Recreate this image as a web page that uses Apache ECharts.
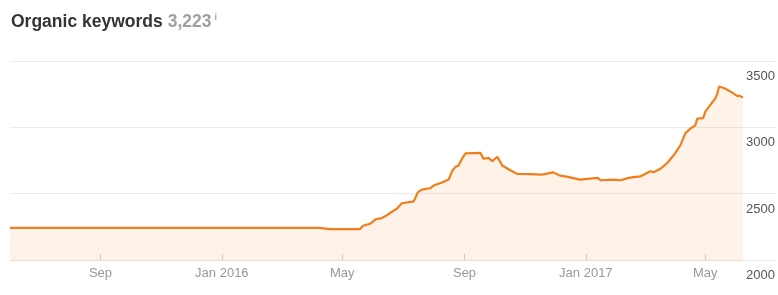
<!DOCTYPE html>
<html><head><meta charset="utf-8">
<script src="https://cdn.jsdelivr.net/npm/echarts@6/dist/echarts.min.js"></script>
<style>html,body{margin:0;padding:0;background:#fff}#c{width:778px;height:295px}</style>
</head><body><div id="c"></div>
<script>
var titleText = 'Organic keywords';
var titleValue = '3,223';
var dates = ['2015-06-02','2015-09-01','2016-01-01','2016-04-08','2016-04-19','2016-05-19','2016-05-22','2016-05-29',
'2016-06-04','2016-06-10','2016-06-14','2016-06-18','2016-06-25','2016-06-30','2016-07-12','2016-07-16','2016-07-20',
'2016-07-29','2016-08-01','2016-08-10','2016-08-16','2016-08-20','2016-08-23','2016-08-26','2016-08-30','2016-09-02',
'2016-09-17','2016-09-20','2016-09-25','2016-09-29','2016-10-04','2016-10-09','2016-10-17','2016-10-24','2016-11-06',
'2016-11-18','2016-11-29','2016-12-06','2016-12-14','2016-12-26','2017-01-13','2017-01-16','2017-01-29','2017-02-05',
'2017-02-13','2017-02-20','2017-02-25','2017-03-07','2017-03-10','2017-03-17','2017-03-24','2017-03-29','2017-04-01',
'2017-04-06','2017-04-11','2017-04-16','2017-04-21','2017-04-23','2017-04-29','2017-05-01','2017-05-06','2017-05-11',
'2017-05-13','2017-05-15','2017-05-21','2017-05-29','2017-06-02','2017-06-05','2017-06-08'];
var keywords = [2242,2242,2242,2242,2233,2233,2258,2273,
2308,2316,2333,2354,2386,2428,2442,2510,2530,
2543,2561,2586,2606,2677,2702,2712,2770,2803,
2808,2763,2770,2745,2778,2712,2677,2649,2648,
2644,2661,2636,2627,2606,2619,2601,2606,2601,
2619,2627,2631,2669,2661,2687,2733,2778,2808,
2864,2955,2990,3015,3066,3070,3116,3167,3217,
3250,3308,3293,3258,3237,3237,3225];
var tickDates = ['2015-09-01','2016-01-01','2016-05-01','2016-09-01','2017-01-01','2017-05-01'];
var tickLabels = ['Sep','Jan 2016','May','Sep','Jan 2017','May'];
var xStart = '2015-06-02', xEnd = '2017-06-08';
var yTicks = [2000, 2500, 3000, 3500];

var FONT = '"Liberation Sans", Arial, sans-serif';
function ts(d){ return Date.UTC(+d.slice(0,4), +d.slice(5,7)-1, +d.slice(8,10)); }
var tickTimes = tickDates.map(ts);
var chart = echarts.init(document.getElementById('c'), null, {renderer:'canvas'});
chart.setOption({
  animation:false,
  title:{
    left:11, top:13, padding:0,
    text:'{a|' + titleText + '} {b|' + titleValue + '}{c|i}',
    textStyle:{
      rich:{
        a:{fontFamily:FONT, fontSize:17.5, fontWeight:'bold', color:'#333'},
        b:{fontFamily:FONT, fontSize:17.5, color:'#a0a0a0'},
        c:{fontFamily:FONT, fontSize:9, color:'#a0a0a0', verticalAlign:'top', padding:[0,0,8,3]}
      }
    }
  },
  grid:[
    {left:10, right:0, top:61, bottom:35},
    {left:10, right:35, top:61, bottom:35}
  ],
  xAxis:[
    {gridIndex:0, type:'value', min:0, max:1, show:false},
    {gridIndex:1, type:'value', min:ts(xStart), max:ts(xEnd),
     axisLine:{show:true, lineStyle:{color:'#e6e0dc'}},
     axisTick:{show:true, inside:true, length:6, lineStyle:{color:'#d0d0d0'}, customValues:tickTimes},
     axisLabel:{customValues:tickTimes, color:'#999', fontFamily:FONT, fontSize:13, margin:7,
       formatter:function(v){ var i = tickTimes.indexOf(v); return i >= 0 ? tickLabels[i] : ''; }},
     splitLine:{show:false}}
  ],
  yAxis:[
    {gridIndex:0, type:'value', min:yTicks[0], max:yTicks[yTicks.length-1], interval:500, position:'right',
     axisLine:{show:false}, axisTick:{show:false},
     splitLine:{show:true, lineStyle:{color:'#ebebeb', width:1}},
     axisLabel:{inside:true, color:'#555', fontFamily:FONT, fontSize:13, verticalAlign:'top', padding:[9,0,0,0], margin:1,
       formatter:function(v){ return String(v); }}},
    {gridIndex:1, type:'value', min:yTicks[0], max:yTicks[yTicks.length-1], interval:500, show:false,
     splitLine:{show:false}}
  ],
  series:[{
    type:'line', xAxisIndex:1, yAxisIndex:1,
    data: dates.map(function(d,i){ return [ts(d), keywords[i]]; }),
    showSymbol:false, symbol:'none',
    lineStyle:{color:'#f07e1a', width:2.2},
    areaStyle:{color:'rgba(250,140,60,0.16)'},
    z:3
  }]
});
</script></body></html>
